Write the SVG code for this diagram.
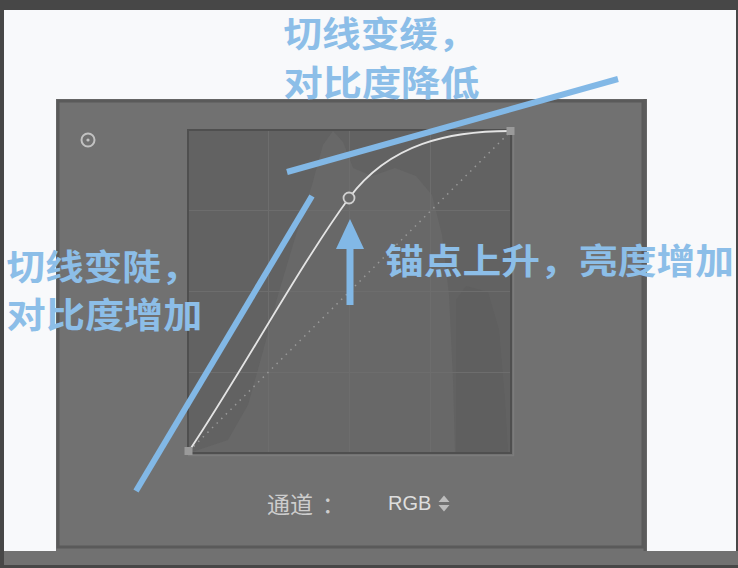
<svg xmlns="http://www.w3.org/2000/svg" width="738" height="568" viewBox="0 0 738 568">
<style>
.ann{font-family:"Noto Sans CJK SC","Noto Sans",sans-serif;font-weight:700;font-size:35px;fill:#8cbee8}
.tan{stroke:#82b8e6;stroke-width:6;stroke-linecap:butt;fill:none}
.grid{stroke:#6d6d6d;stroke-width:1;fill:none}
.ui{font-family:"Noto Sans CJK SC","Noto Sans",sans-serif;fill:#cdcdcd}
</style>
<defs>
<clipPath id="plotclip"><rect x="188" y="130" width="323" height="323"/></clipPath>
</defs>
<!-- backdrop -->
<rect x="0" y="0" width="738" height="568" fill="#474747"/>
<rect x="4" y="10" width="732" height="541" fill="#f8f9fb"/>
<rect x="4" y="551" width="734" height="14" fill="#717171"/>

<!-- panel -->
<g id="panel">
<rect x="56" y="99" width="591" height="452" fill="#717171"/>
<rect x="58" y="101" width="585" height="446" fill="none" stroke="#5a5a5a" stroke-width="3"/>
<line x1="645" y1="99" x2="645" y2="551" stroke="#5c5c5c" stroke-width="3"/>
<circle cx="88" cy="140" r="6.5" fill="none" stroke="#c2c2c2" stroke-width="2"/>
<circle cx="88" cy="140" r="1.6" fill="#c2c2c2"/>
</g>

<!-- plot -->
<g id="plot">
<rect x="187" y="129" width="325" height="325" fill="#626262"/>
<g clip-path="url(#plotclip)">
<path d="M189,453 L228,440 L248,405 L262,355 L278,295 L296,235 L312,185 L323,145 L333,131 L343,142 L353,168 L372,176 L395,168 L416,176 L432,195 L442,235 L449,295 L453,380 L455,453 Z" fill="#686868"/>
<path d="M456,453 L456,300 L466,286 L488,292 L499,330 L505,400 L508,453 Z" fill="#5f5f5f"/>
<line class="grid" x1="268.5" y1="129" x2="268.5" y2="454"/>
<line class="grid" x1="349.5" y1="129" x2="349.5" y2="454"/>
<line class="grid" x1="430.5" y1="129" x2="430.5" y2="454"/>
<line class="grid" x1="187" y1="210.5" x2="512" y2="210.5"/>
<line class="grid" x1="187" y1="291.5" x2="512" y2="291.5"/>
<line class="grid" x1="187" y1="372.5" x2="512" y2="372.5"/>
</g>
<rect x="188" y="130" width="323" height="323" fill="none" stroke="#4f4f4f" stroke-width="2"/>
<path d="M513.5,130 V455.5 H188" fill="none" stroke="#7c7c7c" stroke-width="1.5"/>
<line x1="189" y1="451" x2="511" y2="131" stroke="#999999" stroke-width="1.5" stroke-dasharray="1.5 5"/>
<path d="M189,451 C240,375 300,265 349,198 C390,143 450,131 511,131" fill="none" stroke="#e4e4e4" stroke-width="1.8"/>
<rect x="184.5" y="447" width="8" height="8" fill="#9a9a9a"/>
<rect x="506.5" y="127" width="8" height="8" fill="#9a9a9a"/>
<circle cx="349" cy="198" r="5.5" fill="#6a6a6a" stroke="#d0d0d0" stroke-width="1.8"/>
</g>

<!-- channel selector -->
<g id="channel">
<text class="ui" x="267" y="513" font-size="23">通道<tspan x="322">：</tspan></text>
<text x="388" y="510" font-family="'Liberation Sans',Arial,sans-serif" font-size="20" fill="#dedede">RGB</text>
<path d="M438.5,502 L444,495.5 L449.5,502 Z M438.5,505 L444,511.5 L449.5,505 Z" fill="#bdbdbd"/>
</g>

<!-- annotations -->
<g id="connectors">
<line class="tan" x1="287" y1="172" x2="618" y2="79"/>
<line class="tan" x1="136" y1="491" x2="312" y2="196"/>
<line x1="350" y1="305" x2="350" y2="245" stroke="#82b8e6" stroke-width="7"/>
<path d="M350,219 L364,249 L336,249 Z" fill="#82b8e6"/>
</g>

<g id="label-top">
<text class="ann" x="283.5" y="47" textLength="193" lengthAdjust="spacingAndGlyphs">切线变缓，</text>
<text class="ann" x="283.5" y="96" textLength="196" lengthAdjust="spacingAndGlyphs">对比度降低</text>
</g>
<g id="label-left">
<text class="ann" x="6.5" y="280" textLength="193" lengthAdjust="spacingAndGlyphs">切线变陡，</text>
<text class="ann" x="6.5" y="328" textLength="196" lengthAdjust="spacingAndGlyphs">对比度增加</text>
</g>
<g id="label-right">
<text class="ann" x="385" y="274" textLength="349" lengthAdjust="spacingAndGlyphs">锚点上升，亮度增加</text>
</g>
</svg>
